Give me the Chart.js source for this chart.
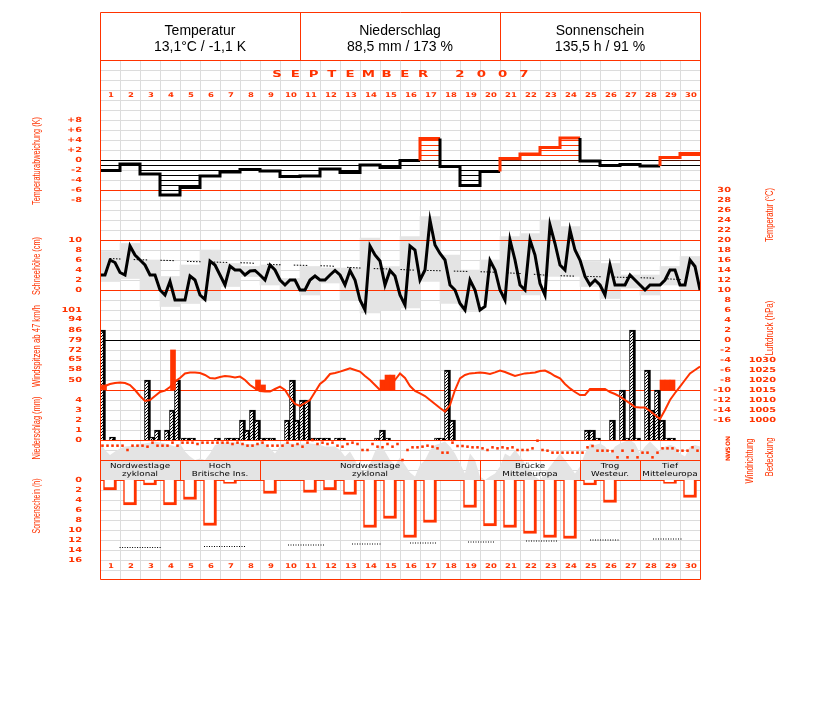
<!DOCTYPE html>
<html><head><meta charset="utf-8">
<script src="https://cdn.jsdelivr.net/npm/chart.js@4.4.1/dist/chart.umd.min.js"></script>
<style>html,body{margin:0;padding:0;background:#fff;}#c{display:block;}</style>
</head><body>
<canvas id="c" width="827" height="702" style="width:827px;height:702px"></canvas>
<script>
// ---------------- DATA ----------------
const dayLabels = ['1','2','3','4','5','6','7','8','9','10','11','12','13','14','15','16','17','18','19','20','21','22','23','24','25','26','27','28','29','30'];
const headerTitles = ['Temperatur','Niederschlag','Sonnenschein'];
const headerValues = ['13,1°C / -1,1 K','88,5 mm / 173 %','135,5 h / 91 %'];
const monthTitle = 'SEPTEMBER';
const yearTitle = '2007';

// daily temperature deviation (K)
const devK = [-2.1,-0.8,-2.8,-7.0,-5.5,-3.2,-2.4,-1.9,-2.2,-3.3,-3.2,-1.8,-2.5,-1.0,-1.5,-0.1,4.3,-1.3,-5.1,-2.3,0.3,1.2,2.5,4.4,-0.2,-1.1,-0.9,-1.2,0.5,1.3];
const devMean = -1.1;

// temperature every 6 h (°C), 1 Sep 00h .. 1 Oct 00h
const temp6h = [13,13,16,15.5,13.5, 13,18.8,17,16,15, 13,13,10,9,11.7, 8,8,8,12.8,12,
  9,8.1,15.8,15,13, 11,14.8,14,14,13, 13.8,13.9,13,12,15, 14,12,11,12,12,
  10,10,12,12.8,12, 12,13,13.9,13,11, 13.9,12,8,6,18.8, 17,15.8,11,13.9,12.8,
  9,7,18.8,18,12, 14,24,19,17.3,16, 11,10,7.3,6,12, 10,6,6.7,15.9,14,
  10,8,20,16,11, 10,20,17,11.3,9, 23,19.3,15,14,22, 18,16,12.7,11,12,
  11,9,15,11,11, 11,13,12,11,10, 11,11,11,12,14, 14,11,11,16,14.7, 10];
// daily extremes (°C)
const tMax = [17.7,19.3,16,12.7,15,18,15.3,14.7,15,12.3,14.7,14.4,14.4,20.4,14.7,20.7,24.7,17,14,16,20.7,21.3,24,22.7,15.7,15.3,13,13,14.7,16.7];
const tMin = [11.7,12.3,10,6.7,7.3,8,10.7,12.7,11,10,9,11.4,8,5.4,6,6.4,11.7,7.3,5.7,8,8,9,12.7,12.7,10.7,8.3,10.4,9,11,10];
// climatological mean temperature (°C)
const tClim = [16.3,16.1,16.0,15.9,15.7,15.6,15.5,15.4,15.1,15.0,14.9,14.8,14.5,14.3,14.2,14.0,13.9,13.8,13.7,13.6,13.4,13.2,12.9,12.8,12.7,12.6,12.5,12.4,12.2,12.0];

// air pressure every 6 h (hPa)
const pressure6h = [1015.8,1017,1018,1018.5,1018.8, 1018.5,1017.5,1015,1012,1009.5, 1010,1012,1014,1014.7,1016.5, 1019.2,1021,1023.3,1023.8,1023.8,
  1023.5,1022.5,1021,1020.8,1021.5, 1022,1021.7,1021.3,1021.7,1020, 1017.5,1015.8,1014.5,1014.2,1014.2, 1015.5,1016.7,1015,1011,1008,
  1007,1008.5,1010,1014,1018, 1020,1023,1023.5,1024.2,1025, 1025.8,1025,1024.2,1022,1020, 1017.5,1015,1015,1017,1020,
  1023.3,1021,1017,1014.5,1013.3, 1012,1010,1008,1006,1004.2, 1007.5,1015,1020.8,1022.5,1023.3, 1023.5,1023.8,1023.5,1023,1023.8,
  1024.7,1024,1023,1022,1022.7, 1023.3,1023.5,1023.8,1024.5,1024.7, 1023.5,1022,1020.8,1018,1015.8, 1014,1012.5,1012.5,1015.5,1015.5,
  1015.5,1015.5,1014,1013,1011.7, 1010,1008.3,1006.5,1006.3,1006.3, 1004.5,1002.5,1000.5,1005,1010, 1013.5,1016.7,1020,1023.3,1025, 1026.7];

// precipitation per 6 h (mm), 4 values per day
const precip6h = [11,0,0.3,0, 0,0,0,0, 0,6,0.3,1, 0,1,3,6, 0.2,0.2,0.2,0, 0,0,0,0.2, 0,0.2,0.2,0.2, 2,1,3,2,
  0.2,0.2,0.2,0, 0,2,6,2, 4,4,0.2,0.2, 0.2,0.2,0,0.2, 0.2,0,0,0, 0,0,0,0.2, 1,0.2,0,0, 0,0,0,0,
  0,0,0,0.2, 0.2,7,2,0, 0,0,0,0, 0,0,0,0, 0,0,0,0, 0,0,0,0, 0,0,0,0, 0,0,0,0,
  0,1,1,0.2, 0,0,2,0, 5,0.2,11,0.2, 0,7,3,5, 2,0.2,0.2,0, 0,0,0,0];

// wind gusts from 47 km/h: time (days since 1 Sep 00h) and km/h
const windPos = [0.2,3.65,7.9,8.15,14.125,14.375,14.625,28.125,28.375,28.625];
const windVal = [46.4,71.9,50,46.4,50,53.6,53.6,50,50,50];

// wind direction every 6 h (degrees)
const windDir6h = [102,102,102,102,102,180,102,102,102,120, 48,102,102,102,48,102,48,48,48,72,
  48,48,48,48,48,48,72,48,72,102, 102,72,48,102,102,102,102,48,102,72,
  120,48,0,72,48,72,48,102,120,72, 48,72,180,180,72,120,130,72,120,72,
  360,180,132,132,120,102,120,150,228,228, 48,108,108,120,132,132,150,180,132,150,
  132,150,132,180,180,180,150,12,180,192, 228,228,228,228,228,228,228,132,108,192,
  192,192,200,312,192,312,192,312,228,228, 312,228,150,150,150,192,192,192,132,192];

// cloud cover every 6 h (octas)
const cloud6h = [7.5,6,5,5.7,6.3, 6.7,6.8,6.8,7.2,7.3, 7.5,7.7,7.5,7.3,7, 6.7,7.3,5.7,4.7,4,
  4.3,4,5.3,7,7.3, 7.5,7.5,7.5,7.3,7.2, 7.2,7.2,7.2,7.2,6.3, 5.3,6.7,7.5,7.3,7.2,
  7.2,7.3,7.3,7.2,7, 6.7,6.7,6.7,6,4.7, 5.7,4,2,1.3,3.3, 5.7,7,5.7,4,3,
  4.5,3,1.5,0.7,3, 4,6,7,7.3,7.7, 6.7,5.3,3.3,1.3,5.3, 4,0.7,0,0.7,1.3,
  2.7,5.3,4.7,6,4.7, 3.3,2,0.7,0,1.3, 2.7,4,5.3,4,2.7, 1.3,2.7,5.3,7.3,7,
  7.3,6.7,5.3,6.7,7.3, 7.7,8,7.3,5.3,6.7, 7.7,6.7,5.7,6.7,7, 6.7,5.3,4.7,6.7,7, 6.7];

// weather types (Großwetterlagen): start/end day and two text lines
const gwlStart = [0,4,8,19,24,27];
const gwlEnd   = [4,8,19,24,27,30];
const gwlLine1 = ['Nordwestlage','Hoch','Nordwestlage','Brücke','Trog','Tief'];
const gwlLine2 = ['zyklonal','Britische Ins.','zyklonal','Mitteleuropa','Westeur.','Mitteleuropa'];

// sunshine duration per day (h)
const sunH = [2.0,5.0,1.0,5.0,3.9,9.1,0.7,0,2.7,0,2.5,2.0,2.9,9.5,7.7,11.5,8.5,0,5.5,9.2,9.5,10.7,11.5,11.7,1.0,4.5,0,0,0.7,3.5];
// long-term sunshine reference segments
const sunClimVal  = [13.5,13.3,13.0,12.8,12.6,12.4,12.2,12.0,11.8];
const sunClimFrom = [0.98,5.2,9.4,12.6,15.5,18.4,21.3,24.5,27.65];
const sunClimTo   = [3.03,7.25,11.2,14.05,16.85,19.75,22.85,26.0,29.15];

// tick labels
const devTickVals = [8,6,4,2,0,-2,-4,-6,-8];
const devTickLabels = ['+8','+6','+4','+2','0','-2','-4','-6','-8'];
const snowTicks = [10,8,6,4,2,0];
const windTicks = [101,94,86,79,72,65,58,50];
const precipTicks = [4,3,2,1,0];
const sunTicks = [0,2,4,6,8,10,12,14,16];
const tempTicks = [30,28,26,24,22,20,18,16,14,12,10,8,6,4,2,0,-2,-4,-6,-8,-10,-12,-14,-16];
const pressTicks = [1030,1025,1020,1015,1010,1005,1000];
const dirTickVals = [0,90,180,270,360];
const dirLabels = ['N','O','S','W','N'];

// ---------------- STYLE ----------------
const RED = '#ff3300', GRID = '#dcdcdc', FILL = '#e4e4e4';
const WIND_BASE = 50 - 10 * 51 / 70;

function hatchH(color){ const c=document.createElement('canvas'); c.width=4; c.height=5; const g=c.getContext('2d'); g.fillStyle='#fff'; g.fillRect(0,0,4,5); g.fillStyle=color; g.fillRect(0,0,4,1); return g.createPattern(c,'repeat'); }
function hatchD(){ const c=document.createElement('canvas'); c.width=3; c.height=3; const g=c.getContext('2d'); g.fillStyle='#fff'; g.fillRect(0,0,3,3); g.fillStyle='#000'; for(let i=0;i<3;i++) g.fillRect(2-i,i,1,1); return g.createPattern(c,'repeat'); }
const patNeg = hatchH('#000'), patPos = hatchH(RED), patRain = hatchD();

function pix(ctx, s, x, y, size, stretch, align, color, weight){
  ctx.save(); ctx.font = (weight || 'bold') + ' ' + size + 'px "DejaVu Sans"'; ctx.fillStyle = color; ctx.textBaseline = 'middle'; ctx.textAlign = 'left';
  const w = ctx.measureText(s).width * stretch;
  const x0 = align === 'right' ? x - w : (align === 'center' ? x - w / 2 : x);
  ctx.translate(x0, y); ctx.scale(stretch, 1); ctx.fillText(s, 0, 0); ctx.restore();
}
function vtitle(ctx, s, x, y, len, color){
  ctx.save(); ctx.font = '11px "Liberation Sans"'; ctx.fillStyle = color; ctx.textBaseline = 'middle'; ctx.textAlign = 'center';
  const w = ctx.measureText(s).width;
  ctx.translate(x, y); ctx.rotate(-Math.PI / 2); ctx.scale(len / w, 1); ctx.fillText(s, 0, 0); ctx.restore();
}

const wx = {
  id: 'wx',
  beforeDatasetsDraw(chart){
    const {ctx, scales:{x:X, yT:T}} = chart;
    ctx.save(); ctx.strokeStyle = GRID; ctx.lineWidth = 1; ctx.beginPath();
    const yTop = T.getPixelForValue(56), yBot = T.getPixelForValue(-48);
    for (let d = 1; d < 30; d++){ const xp = Math.round(X.getPixelForValue(d)) + 0.5; ctx.moveTo(xp, yTop); ctx.lineTo(xp, yBot); }
    for (let v = 54; v >= -46; v -= 2){ const yp = Math.round(T.getPixelForValue(v)) + 0.5; ctx.moveTo(X.left, yp); ctx.lineTo(X.right, yp); }
    ctx.stroke(); ctx.restore();
  },
  afterDatasetDraw(chart, args){
    if (chart.data.datasets[args.index].label !== 'Tmin/Tmax') return;
    const {ctx, scales:s} = chart;
    const hl = (axis, v, color) => { const yp = Math.round(s[axis].getPixelForValue(v)) + 0.5; ctx.strokeStyle = color; ctx.beginPath(); ctx.moveTo(s.x.left, yp); ctx.lineTo(s.x.right, yp); ctx.stroke(); };
    ctx.save(); ctx.lineWidth = 1;
    hl('yDev', -6, RED); hl('yT', 20, RED); hl('yT', 10, RED); hl('yT', -10, RED); hl('yR', 0, RED); hl('yC', 4, RED); hl('yC', 0, RED);
    hl('yDev', 0, '#000'); hl('yDev', devMean, '#000'); hl('yT', 0, '#000');
    ctx.restore();
  },
  afterDatasetsDraw(chart){
    const {ctx, scales:s} = chart; const X = s.x, T = s.yT;
    // frame
    ctx.save(); ctx.strokeStyle = RED; ctx.lineWidth = 1;
    const L = Math.round(X.getPixelForValue(0)) + 0.5, R = Math.round(X.getPixelForValue(30)) + 0.5;
    const top = Math.round(T.getPixelForValue(65.6)) + 0.5, hb = Math.round(T.getPixelForValue(56)) + 0.5, bot = Math.round(T.getPixelForValue(-48)) - 0.5;
    ctx.beginPath();
    ctx.moveTo(L, top); ctx.lineTo(R, top); ctx.moveTo(L, hb); ctx.lineTo(R, hb); ctx.moveTo(L, bot); ctx.lineTo(R, bot);
    ctx.moveTo(L, top); ctx.lineTo(L, bot); ctx.moveTo(R, top); ctx.lineTo(R, bot);
    [10, 20].forEach(d => { const xp = Math.round(X.getPixelForValue(d)) + 0.5; ctx.moveTo(xp, top); ctx.lineTo(xp, hb); });
    const g1 = s.yC.getPixelForValue(4), g2 = s.yC.getPixelForValue(0);
    gwlStart.forEach((d, i) => { if (i === 0) return; const xp = Math.round(X.getPixelForValue(d)) + 0.5; ctx.moveTo(xp, g1); ctx.lineTo(xp, g2); });
    ctx.stroke(); ctx.restore();

    // header
    ctx.save(); ctx.fillStyle = '#000'; ctx.font = '14px "Liberation Sans"'; ctx.textAlign = 'center'; ctx.textBaseline = 'middle';
    headerTitles.forEach((t, i) => { const xc = X.getPixelForValue(5 + 10 * i); ctx.fillText(t, xc, 31); ctx.fillText(headerValues[i], xc, 47); });
    ctx.restore();

    // month title
    const ym = T.getPixelForValue(53);
    monthTitle.split('').forEach((ch, i) => pix(ctx, ch, 277 + i * 18.25, ym, 9.5, 1.4, 'center', RED));
    yearTitle.split('').forEach((ch, i) => pix(ctx, ch, 460 + i * 21.3, ym, 9.5, 1.4, 'center', RED));

    // day labels
    dayLabels.forEach((d, i) => {
      const xc = X.getPixelForValue(i + 0.5) + 1;
      pix(ctx, d, xc, T.getPixelForValue(49), 6.5, 1.3, 'center', RED);
      pix(ctx, d, xc, T.getPixelForValue(-45.2), 6.5, 1.3, 'center', RED);
    });

    // left ticks
    const LX = 82, TS = 7, TW = 1.4;
    devTickVals.forEach((v, i) => pix(ctx, devTickLabels[i], LX, s.yDev.getPixelForValue(v), TS, TW, 'right', RED));
    snowTicks.forEach(v => pix(ctx, String(v), LX, s.ySnow.getPixelForValue(v), TS, TW, 'right', RED));
    windTicks.forEach(v => pix(ctx, String(v), LX, s.yWind.getPixelForValue(v), TS, TW, 'right', RED));
    precipTicks.forEach(v => pix(ctx, String(v), LX, s.yR.getPixelForValue(v), TS, TW, 'right', RED));
    sunTicks.forEach(v => pix(ctx, String(v), LX, s.yS.getPixelForValue(v), TS, TW, 'right', RED));
    // right ticks
    tempTicks.forEach(v => pix(ctx, String(v), 731, s.yT.getPixelForValue(v), TS, TW, 'right', RED));
    pressTicks.forEach(v => pix(ctx, String(v), 776, s.yP.getPixelForValue(v), TS, TW, 'right', RED));
    dirTickVals.forEach((v, i) => {
      ctx.save(); ctx.translate(728, s.yDir.getPixelForValue(v) - 1.5); ctx.rotate(-Math.PI / 2);
      ctx.font = 'bold 6px "DejaVu Sans"'; ctx.fillStyle = RED; ctx.textAlign = 'center'; ctx.textBaseline = 'middle';
      ctx.fillText(dirLabels[i], 0, 0); ctx.restore();
    });

    // axis titles
    vtitle(ctx, 'Temperaturabweichung (K)', 37, 161, 88, RED);
    vtitle(ctx, 'Schneehöhe (cm)', 37, 266, 58, RED);
    vtitle(ctx, 'Windspitzen ab 47 km/h', 37, 346, 82, RED);
    vtitle(ctx, 'Niederschlag (mm)', 37, 428, 63, RED);
    vtitle(ctx, 'Sonnenschein (h)', 37, 506, 55, RED);
    vtitle(ctx, 'Temperatur (°C)', 770, 215, 54, RED);
    vtitle(ctx, 'Luftdruck (hPa)', 770, 328, 55, RED);
    vtitle(ctx, 'Windrichtung', 750, 461, 45, RED);
    vtitle(ctx, 'Bedeckung', 770, 457, 39, RED);

    // weather types
    gwlStart.forEach((d, i) => {
      const xc = X.getPixelForValue((d + gwlEnd[i]) / 2);
      pix(ctx, gwlLine1[i], xc, s.yC.getPixelForValue(2.7), 7, 1.25, 'center', '#000', 'normal');
      pix(ctx, gwlLine2[i], xc, s.yC.getPixelForValue(1.1), 7, 1.25, 'center', '#000', 'normal');
    });
  }
};

const q = k => k / 4;
const sunClimData = [];
sunClimVal.forEach((v, i) => { sunClimData.push({x: sunClimFrom[i], y: v}, {x: sunClimTo[i], y: v}, {x: sunClimTo[i] + 0.01, y: null}); });
const devLine = [{x: 0, y: devK[0]}].concat(devK.map((v, i) => ({x: i + 1, y: v})));

const datasets = [
  { label:'Bedeckung', type:'line', yAxisID:'yC', order:10, data: cloud6h.map((v,k)=>({x:q(k), y:v})),
    fill:'origin', backgroundColor:FILL, borderColor:'rgba(0,0,0,0)', borderWidth:0, pointRadius:0, tension:0 },
  { label:'Tmin/Tmax', type:'bar', yAxisID:'yT', order:9, data: tMax.map((v,i)=>({x:i+0.5, y:[tMin[i], v]})),
    backgroundColor:FILL, borderWidth:0, barThickness:20, grouped:false },
  { label:'Abweichung', type:'bar', yAxisID:'yDev', order:8, data: devK.map((v,i)=>({x:i+0.5, y:v})),
    backgroundColor: c => (c.raw && c.raw.y > 0) ? patPos : patNeg, borderWidth:0, barThickness:20, grouped:false },
  { label:'Klimamittel', type:'line', yAxisID:'yT', order:7, data: tClim.map((v,i)=>({x:i+0.5, y:v})),
    borderColor:'#000', borderWidth:1, borderDash:[1.5,1.5,1.5,1.5,1.5,1.5,1.5,1.5,1.5,13.2], borderDashOffset:3, pointRadius:0, fill:false },
  { label:'Temperatur', type:'line', yAxisID:'yT', order:6, data: temp6h.map((v,k)=>({x:q(k), y:v})),
    borderColor:'#000', borderWidth:3, pointRadius:0, tension:0, fill:false },
  { label:'Niederschlag', type:'bar', yAxisID:'yR', order:5, data: precip6h.map((v,k)=>({x:q(k)+0.125, y:v})).filter(p=>p.y>0),
    backgroundColor:patRain, borderColor:'#000', borderWidth:{left:1,right:3,top:2,bottom:0}, borderSkipped:'start', barThickness:6, grouped:false },
  { label:'Luftdruck', type:'line', yAxisID:'yP', order:4, data: pressure6h.map((v,k)=>({x:q(k), y:v})),
    borderColor:RED, borderWidth:2, pointRadius:0, tension:0, fill:false },
  { label:'Windspitzen', type:'bar', yAxisID:'yWind', order:3, data: windPos.map((p,i)=>({x:p, y:[WIND_BASE, windVal[i]]})),
    backgroundColor:RED, borderWidth:0, barThickness:5, grouped:false },
  { label:'Windrichtung', type:'line', yAxisID:'yDir', order:2, showLine:false, data: windDir6h.map((v,k)=>({x:q(k)+0.125, y:v})),
    pointStyle:'rect', pointRadius:1.8, pointBackgroundColor:RED, pointBorderColor:RED, pointBorderWidth:0 },
  { label:'Sonnenschein', type:'bar', yAxisID:'yS', order:2, data: sunH.map((v,i)=>({x:i+0.5, y:v})).filter(p=>p.y>0),
    backgroundColor:'#fff', borderColor:RED, borderWidth:{left:1.5,right:3,bottom:3,top:0}, borderSkipped:'start', barThickness:13, grouped:false },
  { label:'Sonnenschein Mittel', type:'line', yAxisID:'yS', order:1, data: sunClimData,
    borderColor:'#000', borderWidth:1, borderDash:[1,1.5], pointRadius:0, spanGaps:false, fill:false },
  { label:'Abweichung Linie', type:'line', yAxisID:'yDev', order:0, data: devLine, stepped:'after',
    borderColor:'#000', borderWidth:3, pointRadius:0, fill:false,
    segment:{ borderColor: c => c.p1.parsed.y > 0 ? RED : '#000' } }
];

const hid = (o) => Object.assign({type:'linear', display:false}, o);
new Chart(document.getElementById('c'), {
  type: 'bar',
  data: { datasets },
  options: {
    responsive:false, devicePixelRatio:1, animation:false, events:[],
    layout:{ padding:{ left:100, right:127, top:12, bottom:122 } },
    plugins:{ legend:{display:false}, tooltip:{enabled:false} },
    scales:{
      x: hid({min:0, max:30, offset:false}),
      yDev: hid({min:-84, max:29.6}),
      yT: hid({min:-48, max:65.6}),
      ySnow: hid({min:-58, max:55.6}),
      yWind: hid({min:50 - 200 * 51 / 70, max:50 + 368 * 51 / 70}),
      yP: hid({min:920, max:1204}),
      yR: hid({min:-14, max:42.8}),
      yDir: hid({reverse:true, min:-428 * 18, max:140 * 18}),
      yC: hid({min:-20, max:93.6}),
      yS: hid({reverse:true, min:-93.6, max:20})
    }
  },
  plugins:[wx]
});
</script>
</body></html>
